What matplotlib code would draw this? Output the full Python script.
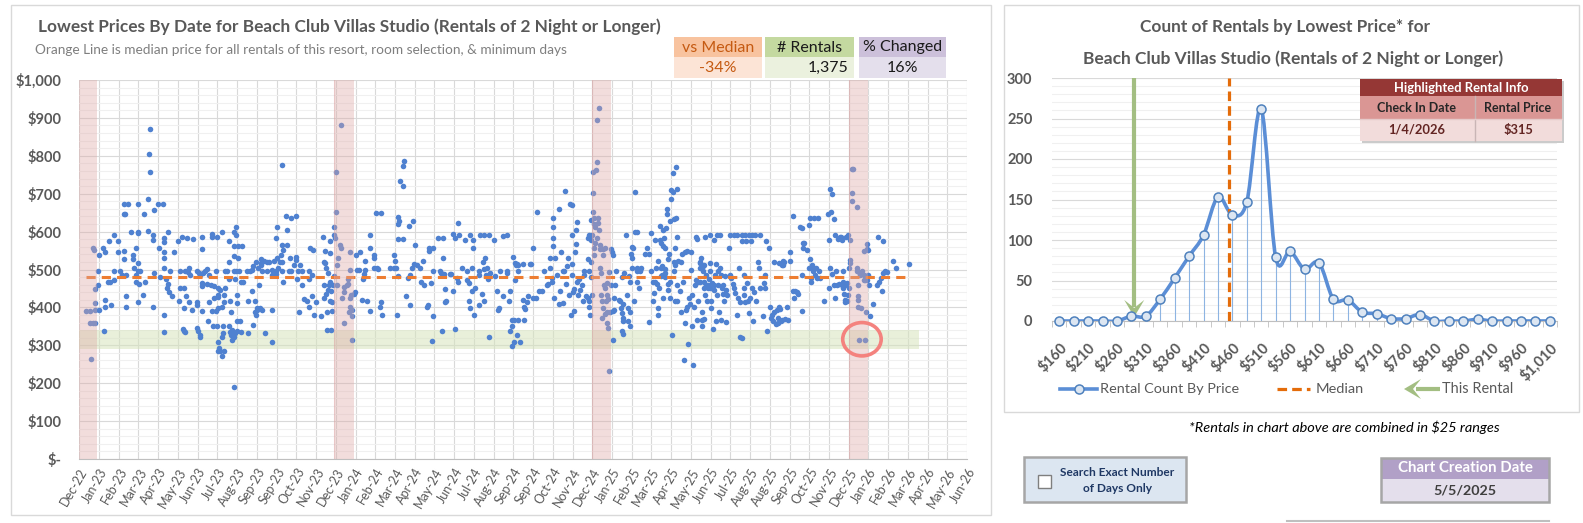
import matplotlib
matplotlib.use("Agg")
import matplotlib.pyplot as plt
from matplotlib.patches import Rectangle, Ellipse, Polygon, PathPatch
from matplotlib.path import Path
import numpy as np

plt.rcParams['font.family'] = ['Lato', 'DejaVu Sans']

# ---------------- DATA ----------------
# left chart: (period index of 28-day axis steps since Dec-22, lowest price $)
rentals_part1 = [(0.32,391),(0.56,391),(0.81,393),(0.56,360),(0.69,360),(0.81,360),(0.59,265),(0.69,558),(0.76,552),(0.81,449),(0.81,411),(0.93,496),(0.93,460),(1.0,394),(1.02,539),
(1.2,558),(1.32,546),(1.27,339),(1.32,420),(1.32,402),(1.44,466),(1.57,466),(1.49,576),(1.62,407),(1.77,590),(1.77,496),(1.77,473),(1.96,546),(1.96,574),(2.04,495),(2.18,486),(2.25,646),(2.28,673),(2.3,646),(2.28,528),(2.28,549),(2.38,486),(2.38,431),(2.38,400),(2.48,673),(2.64,600),(2.72,539),(2.72,528),(2.75,504),(2.89,556),(2.89,486),(2.89,468),(2.96,673),(2.96,600),(3.0,595),(3.0,517),(3.0,495),(3.02,461),(3.0,414),(3.1,496),(3.21,433),(3.3,647),(3.34,468),(3.48,686),(3.48,602),(3.53,805),(3.58,871),(3.6,756),(3.72,590),(3.73,578),(3.73,402),(3.8,657),(3.8,490),(4.0,673),(4.02,556),(4.07,479),(4.24,673),(4.27,584),(4.27,572),(4.27,547),(4.27,530),(4.27,504),(4.31,379),(4.27,334),(4.41,475),(4.44,451),(4.48,600),(4.51,461),(4.55,440),(4.61,495),(4.69,429),(4.78,547),(5.02,576),(5.05,416),(5.08,451),(5.1,495),(5.22,587),(5.29,398),(5.32,451),(5.34,495),(5.39,429),(5.46,584),(5.49,493),(5.54,414),(5.59,486),(5.57,504),(5.71,394),(5.74,581),(5.25,344),(5.32,338),(5.37,335),(5.96,496),(5.96,414),(5.98,407),(5.96,345),(6.0,338),(6.1,328),(6.13,321),(6.22,587),(6.22,555),(6.22,391),(6.22,464),(6.22,457),(6.08,490),(6.13,486),(6.27,490),(6.39,496),(6.47,502),(6.55,486),(6.47,461),(6.5,365),(6.55,414),(6.67,460),(6.72,593),(6.74,587),(6.81,456),(6.84,426),(6.72,391),(6.77,350),(6.94,496),(6.91,391),(6.98,350),(7.0,587),(7.03,451),(7.03,433),(7.05,427),(7.05,398),(7.15,446),(7.02,308),(7.1,293),(7.02,284),(7.15,284),(7.35,284),(7.23,272),(7.23,598),(7.23,400),(7.23,321),(7.28,352),(7.28,332),(7.32,414),(7.35,433),(7.4,451),(7.4,495),(7.48,495),(7.57,475),(7.57,521),(7.57,574),(7.62,416),(7.57,352),(7.62,334),(7.69,328),(7.76,341),(7.69,389),(7.76,315),(7.82,600),(7.82,563),(7.82,535),(7.82,496),(7.85,323),(7.9,475),(7.9,332),(7.96,612),(7.96,591),(7.96,496),(7.99,433),(7.99,411),(7.99,337),(8.02,563),(8.02,530),(8.07,496),(7.85,191),(8.16,363),(8.19,335),(8.24,563),(8.29,468),(7.99,363),(8.19,468),(8.5,495),(8.53,332),(8.55,416),(8.66,495),(8.75,442),(8.78,354),(8.75,499),(8.78,510),(8.92,416),(8.92,389),(8.95,380),(8.97,521),(9.0,398),(9.0,394),(9.05,504),(9.1,458),(9.14,398),(9.21,528),(9.21,517),(9.21,512),(9.24,496),(9.26,394),(9.34,523),(9.43,332),(9.51,496),(9.51,521),(9.59,521)]

rentals_part2 = [(9.76,499),(9.76,486),(9.76,392),(9.76,310),(9.88,523),(9.98,584),(9.98,495),(10.02,612),(9.98,488),(10.02,531),(10.05,504),(10.19,521),(10.22,537),(10.25,565),(10.25,521),(10.25,495),(10.32,552),(10.32,467),(10.25,776),(10.47,642),(10.52,603),(10.52,565),(10.61,496),(10.69,531),(10.73,637),(10.73,495),(10.9,511),(10.96,642),(11.0,534),(11.0,525),(11.03,475),(11.07,496),(11.12,389),(11.2,512),(11.29,460),(11.3,495),(11.4,423),(11.54,417),(11.62,400),(11.62,475),(11.62,495),(11.71,556),(11.79,486),(11.79,429),(11.84,552),(11.88,379),(11.98,414),(12.25,376),(12.35,587),(12.38,458),(12.38,424),(12.41,521),(12.47,549),(12.47,517),(12.52,504),(12.52,435),(12.55,341),(12.55,389),(12.59,446),(12.62,490),(12.64,460),(12.69,574),(12.69,468),(12.72,543),(12.72,416),(12.74,341),(12.76,442),(12.79,414),(12.81,391),(12.86,460),(12.89,611),(12.89,590),(12.92,482),(12.97,584),(12.99,653),(13.01,757),(13.06,512),(13.06,460),(13.11,531),(13.19,565),(13.26,881),(13.26,558),(13.31,426),(13.43,358),(13.43,440),(13.43,455),(13.56,460),(13.6,475),(13.62,461),(13.68,389),(13.7,546),(13.73,499),(13.73,424),(13.73,402),(13.77,433),(13.8,376),(13.8,315),(13.83,394),(13.9,435),(13.99,440),(14.04,539),(14.07,499),(14.19,499),(14.24,547),(14.34,420),(14.36,475),(14.41,489),(14.49,499),(14.49,523),(14.58,416),(14.71,590),(14.75,558),(14.75,391),(14.92,537),(14.95,531),(14.92,505),(15.05,648),(15.08,504),(15.13,502),(15.25,402),(15.29,414),(15.31,648),(15.34,379),(15.76,505),(15.93,504),(15.96,537),(16.01,523),(16.06,504),(16.1,379),(16.13,484),(16.15,580),(16.15,620),(16.15,638),(16.23,627),(16.25,734),(16.4,719),(16.4,772),(16.45,785),(16.4,580),(16.56,431),(16.64,477),(16.69,616),(16.74,486),(16.74,407),(16.86,505),(16.91,627),(16.98,514),(17.03,565),(17.14,511),(17.25,505),(17.32,467),(17.42,523),(17.49,460),(17.62,402),(17.65,407),(17.7,558),(17.74,549),(17.84,465),(17.87,312),(17.95,496),(17.95,558),(17.95,376),(18.2,583),(18.29,496),(18.32,490),(18.37,337),(18.42,530),(18.46,584),(18.49,488),(18.54,449),(18.54,414),(18.59,416),(18.8,489),(18.83,488),(18.94,442),(18.94,593),(19.02,583),(19.05,344),(19.14,477),(19.17,467),(19.19,622),(19.24,590),(19.39,504),(19.56,578),(19.64,496),(19.64,471),(19.73,464),(19.76,416),(19.81,590),(19.81,398),(19.9,442),(19.9,504),(19.95,556),(19.98,578),(20.02,380),(20.05,451),(20.24,486),(20.24,495),(20.24,407),(20.29,590),(20.41,435),(20.46,521),(20.49,502),(20.52,416),(20.52,590),(20.56,530),(20.63,486),(20.66,505),(20.74,475),(20.76,321),(20.78,590),(20.83,490),(21.0,578),(21.08,482),(21.17,444),(21.2,394),(21.25,398),(21.3,496)]

rentals_part3 = [(21.47,589),(21.5,431),(21.7,495),(21.7,490),(21.7,591),(21.77,416),(21.84,337),(21.84,442),(21.91,350),(21.91,367),(21.94,297),(21.97,534),(22.01,310),(22.01,367),(22.08,517),(22.08,473),(22.15,511),(22.18,328),(22.21,514),(22.26,495),(22.26,512),(22.26,367),(22.35,308),(22.48,514),(22.48,420),(22.52,402),(22.55,367),(22.58,396),(22.69,414),(22.75,429),(22.82,514),(22.92,514),(22.99,424),(23.02,558),(23.16,424),(23.22,653),(23.29,442),(23.46,442),(23.53,495),(23.7,460),(23.78,461),(23.87,531),(23.87,504),(23.94,468),(23.95,477),(24.0,637),(24.0,613),(24.0,583),(24.0,563),(24.04,424),(24.12,531),(24.21,486),(24.29,409),(24.3,660),(24.37,442),(24.41,546),(24.51,495),(24.54,411),(24.58,496),(24.64,707),(24.68,461),(24.71,508),(24.75,531),(24.8,433),(24.85,672),(24.92,380),(24.95,670),(24.95,590),(24.97,514),(24.97,486),(25.02,440),(25.08,449),(25.08,391),(25.13,547),(25.19,567),(25.19,605),(25.22,625),(25.25,468),(25.27,433),(25.34,475),(25.36,446),(25.47,460),(25.52,416),(25.56,486),(25.59,496),(25.66,431),(25.76,584),(25.76,528),(25.79,426),(25.81,417),(25.81,495),(25.81,400),(25.86,591),(25.9,380),(25.93,578),(25.93,479),(25.96,519),(25.96,631),(25.98,433),(26.0,591),(26.03,653),(26.03,701),(26.06,757),(26.1,637),(26.1,558),(26.1,620),(26.1,537),(26.13,611),(26.15,570),(26.2,763),(26.22,895),(26.23,783),(26.25,583),(26.27,635),(26.28,622),(26.32,605),(26.35,925),(26.37,554),(26.4,565),(26.4,504),(26.44,490),(26.44,433),(26.49,417),(26.5,372),(26.54,398),(26.57,539),(26.57,554),(26.6,460),(26.64,556),(26.66,382),(26.67,451),(26.71,416),(26.74,433),(26.74,389),(26.77,464),(26.77,359),(26.79,345),(26.81,423),(26.84,233),(26.84,493),(26.91,389),(26.94,554),(26.96,460),(26.99,547),(27.04,539),(27.04,391),(27.06,315),(27.08,424),(27.11,394),(27.16,460),(27.21,496),(27.35,420),(27.41,416),(27.45,398),(27.5,479),(27.52,385),(27.55,372),(27.55,363),(27.52,338),(27.55,330),(27.58,409),(27.62,490),(27.72,591),(27.75,433),(27.79,398),(27.82,365),(27.85,482),(27.89,350),(27.92,387),(27.92,468),(27.96,540),(28.01,559),(28.01,505),(28.04,531),(28.09,558),(28.12,416),(28.16,705),(28.19,600),(28.26,468),(28.26,505),(28.26,600),(28.29,496),(28.35,451),(28.4,499),(28.43,495),(28.46,505),(28.68,540),(28.77,558),(28.87,361),(28.9,540),(28.97,596),(28.97,495),(29.1,416),(29.1,468),(29.14,438),(29.19,578),(29.19,468),(29.24,505),(29.27,461),(29.31,398),(29.31,523),(29.34,379),(29.36,451),(29.41,578),(29.44,616),(29.48,504),(29.48,484),(29.51,570),(29.53,508),(29.54,486),(29.58,561),(29.61,424),(29.61,605),(29.64,583),(29.68,558),(29.68,490),(29.7,502),(29.71,479),(29.75,609),(29.78,646),(29.81,660),(29.83,528),(29.86,461),(29.86,446),(29.9,540),(29.92,468),(29.92,426),(29.95,627),(29.98,686),(29.98,710),(30.02,326),(30.07,705),(30.08,754),(30.12,521),(30.12,496),(30.15,634),(30.19,558),(30.2,417),(30.2,512),(30.22,637),(30.22,771),(30.29,712),(30.29,587),(30.29,460),(30.32,416),(30.37,523),(30.46,442),(30.49,521),(30.52,389),(30.56,540),(30.59,468),(30.63,262),(30.71,547),(30.71,359),(30.73,394),(30.8,549),(30.8,402),(30.83,303),(30.88,424),(30.96,409),(31.0,547),(31.03,499),(31.05,352),(31.07,433),(31.13,249),(31.17,402),(31.22,460),(31.27,587),(31.27,473),(31.3,367),(31.3,581),(31.34,468),(31.37,416),(31.44,505),(31.44,519),(31.47,517),(31.47,468),(31.51,530),(31.56,387),(31.56,350),(31.56,367),(31.59,508),(31.61,495),(31.64,451),(31.64,370),(31.68,512),(31.68,468),(31.71,587),(31.73,433),(31.78,460),(31.78,486),(31.81,416),(31.85,451),(31.88,460),(31.9,475),(31.95,590),(31.95,517),(31.98,495),(31.98,451),(32.01,416),(32.03,398),(32.06,464),(32.11,344),(32.15,578),(32.15,446),(32.18,460),(32.23,486),(32.25,365),(32.28,514),(32.31,433),(32.31,590),(32.35,460),(32.38,495),(32.4,389),(32.45,505),(32.48,590),(32.52,367),(32.52,486),(32.57,451),(32.62,435),(32.65,460),(32.69,416),(32.74,482),(32.79,361),(32.79,446),(32.82,433),(32.91,556),(32.96,486),(32.99,590),(32.99,482),(33.02,477),(33.12,461),(33.16,590),(33.19,451),(33.24,438),(33.33,590),(33.36,380),(33.4,424),(33.46,504),(33.47,321)]

rentals_part4 = [(33.58,590),(33.75,590),(33.92,590),(34.08,590),(34.25,590),(34.51,590),(33.58,576),(33.8,576),(34.03,576),
(33.5,414),(33.58,319),(33.67,433),(33.7,486),(33.7,451),(33.75,414),(33.83,464),(33.87,416),(33.97,384),(34.0,426),(34.08,451),(34.17,363),(34.2,440),(34.31,416),(34.42,519),(34.44,505),(34.51,451),(34.68,376),(34.71,464),(34.76,451),(34.76,486),(34.81,576),(34.88,337),(34.98,558),(35.02,402),(35.05,372),(35.1,380),(35.15,363),(35.19,389),(35.22,521),(35.32,356),(35.35,394),(35.39,372),(35.44,359),(35.49,517),(35.49,400),(35.52,396),(35.56,363),(35.61,512),(35.61,367),(35.69,523),(35.69,512),(35.72,521),(35.77,369),(35.86,402),(35.94,367),(36.0,547),(36.03,523),(36.17,442),(36.2,642),(36.23,426),(36.29,442),(36.37,440),(36.45,435),(36.54,613),(36.62,609),(36.62,486),(36.62,391),(36.67,569),(36.67,556),(36.74,569),(36.91,552),(36.98,505),(37.01,617),(37.04,637),(37.04,528),(37.08,477),(37.08,467),(37.13,511),(37.18,495),(37.21,505),(37.24,637),(37.29,486),(37.34,504),(37.38,477),(37.46,637),(37.51,495),(37.55,477),(37.75,417),(37.96,646),(37.99,451),(38.02,578),(38.06,504),(38.06,713),(38.09,653),(38.14,699),(38.14,488),(38.23,634),(38.26,460),(38.31,590),(38.31,426),(38.36,495),(38.39,459),(38.48,581),(38.53,461),(38.56,587),(38.6,587),(38.65,460),(38.65,578),(38.7,496),(38.73,468),(38.73,451),(38.77,435),(38.82,414),(38.82,460),(38.82,420),(38.87,587),(38.9,464),(38.9,417),(38.94,590),(38.97,433),(38.99,451),(38.99,504),(39.04,525),(39.04,578),(39.04,517),
(39.15,764),(39.2,766),(39.15,703),(39.15,682),(39.41,665),(39.41,505),(39.44,495),(39.49,460),(39.49,429),(39.49,420),(39.49,402),(39.54,493),(39.58,486),(39.61,398),(39.66,496),(39.75,549),(39.75,473),(39.78,486),(39.81,471),(39.83,482),(39.88,389),(39.92,566),(39.92,471),(39.95,554),(39.98,552),(40.0,486),(40.05,460),(40.08,376),(40.22,409),
(39.51,315),(39.82,315),
(40.42,460),(40.47,587),(40.52,468),(40.64,477),(40.69,442),(40.76,576),(40.76,490),(40.84,495),(40.96,493),(41.23,523),(41.4,505),(42.08,514)]

date_tick_labels = ["Dec-22","Jan-23","Feb-23","Mar-23","Apr-23","May-23","Jun-23","Jul-23","Aug-23","Sep-23","Sep-23",
                    "Oct-23","Nov-23","Dec-23","Jan-24","Feb-24","Mar-24","Apr-24","May-24","Jun-24","Jul-24","Aug-24",
                    "Sep-24","Sep-24","Oct-24","Nov-24","Dec-24","Jan-25","Feb-25","Mar-25","Apr-25","May-25","Jun-25",
                    "Jul-25","Aug-25","Aug-25","Sep-25","Oct-25","Nov-25","Dec-25","Jan-26","Feb-26","Mar-26","Apr-26",
                    "May-26","Jun-26"]
price_ticks = [0, 100, 200, 300, 400, 500, 600, 700, 800, 900, 1000]
price_tick_labels = ["$-", "$100", "$200", "$300", "$400", "$500", "$600", "$700", "$800", "$900", "$1,000"]
holiday_band_start = [-0.05, 12.93, 25.97, 39.0]
holiday_band_width = 0.97

median_price = 480
highlight_price = 315
highlight_period = 39.67
highlight_date = "1/4/2026"
bin_width = 25

stat_vs_median = "-34%"
stat_rentals = "1,375"
stat_changed = "16%"
creation_date = "5/5/2025"

# right chart: rental counts per $25 price bin
bin_prices = [160, 185, 210, 235, 260, 285, 310, 335, 360, 385, 410, 435, 460, 485, 510, 535, 560, 585,
              610, 635, 660, 685, 710, 735, 760, 785, 810, 835, 860, 885, 910, 935, 960, 985, 1010]
bin_counts = [0, 0, 0, 0, 0, 6, 6, 27, 53, 80, 106, 153, 131, 147, 262, 79, 86, 64,
              72, 27, 26, 11, 9, 3, 3, 8, 0, 0, 0, 2, 0, 0, 0, 0, 0]
count_ticks = [0, 50, 100, 150, 200, 250, 300]

# ---------------- FIGURE ----------------
W, H = 1583, 523
fig = plt.figure(figsize=(W / 100, H / 100), dpi=100)
renderer = fig.canvas.get_renderer()

GREY = '#595959'


def rect(x0, y0, x1, y1):
    return [x0 / W, 1 - y1 / H, (x1 - x0) / W, (y1 - y0) / H]


def fit_text(ax, x, y, s, width, **kw):
    t = ax.text(x, y, s, **kw)
    bb = t.get_window_extent(renderer=renderer)
    t.set_fontsize(t.get_fontsize() * width / bb.width)
    return t


# background axes in pixel coordinates
bg = fig.add_axes([0, 0, 1, 1], zorder=0)
bg.set_xlim(0, W); bg.set_ylim(H, 0); bg.axis('off')
bg.add_patch(Rectangle((11, 5), 980, 510, fill=False, ec='#D9D9D9', lw=1))
bg.add_patch(Rectangle((1004, 5), 575, 407, fill=False, ec='#D9D9D9', lw=1))
bg.plot([1287, 1549], [521, 521], color='#BFBFBF', lw=1.5)

# overlay axes in pixel coordinates
ov = fig.add_axes([0, 0, 1, 1], zorder=10)
ov.set_xlim(0, W); ov.set_ylim(H, 0); ov.axis('off')
ov.patch.set_alpha(0)

# ---------------- LEFT CHART ----------------
pts = np.array(rentals_part1 + rentals_part2 + rentals_part3 + rentals_part4)
period, price = pts[:, 0], pts[:, 1]

axL = fig.add_axes(rect(79.3, 80, 967.1, 459), zorder=2)
axL.set_xlim(0, len(date_tick_labels) - 1)
axL.set_ylim(0, 1000)
axL.set_yticks(price_ticks)
axL.set_yticks(np.arange(0, 1001, 20), minor=True)
axL.set_yticklabels(price_tick_labels, fontsize=10.5, fontweight='bold', color=GREY)
axL.set_xticks(np.arange(len(date_tick_labels)))
axL.set_xticklabels(date_tick_labels, rotation=60, ha='right', rotation_mode='anchor',
                    fontsize=9, color=GREY)
axL.tick_params(axis='both', which='both', length=0)
axL.tick_params(axis='y', pad=13)
axL.tick_params(axis='x', pad=5)
axL.grid(True, which='major', color='#D9D9D9', lw=0.8, zorder=0)
axL.grid(True, which='minor', axis='y', color='#F0F0F0', lw=0.8, zorder=0)
axL.set_axisbelow(True)
for s in ['top', 'right', 'left']:
    axL.spines[s].set_visible(False)
axL.spines['bottom'].set_color('#BFBFBF')

# target price band
axL.fill_between([0, period.max() + 0.5], highlight_price - bin_width, highlight_price + bin_width,
                 color='#D7E4BD', alpha=0.55, lw=0, zorder=1)
axL.scatter(period, price, s=16, color='#4F81D0', lw=0, zorder=3)
axL.plot([period.min(), period.max()], [median_price, median_price], color='#ED7D31',
         lw=2.2, ls=(0, (3, 2)), zorder=3.5)
for b in holiday_band_start:
    axL.axvspan(b, b + holiday_band_width, color='#DEA7A5', alpha=0.38, lw=0, zorder=4)
    axL.axvline(b, color='#D9A0A0', lw=0.8, alpha=0.35, zorder=4)
axL.add_patch(Ellipse((highlight_period, highlight_price + 1), 1.95, 88, fill=False,
                      ec='#F4827E', lw=2.6, zorder=5))

# titles
fit_text(bg, 38, 27, "Lowest Prices By Date for Beach Club Villas Studio (Rentals of 2 Night or Longer)",
         617, fontsize=12, fontweight='bold', color=GREY, va='center', ha='left')
fit_text(bg, 35, 50, "Orange Line is median price for all rentals of this resort, room selection, & minimum days",
         530, fontsize=10, color='#7F7F7F', va='center', ha='left')

# stats boxes
boxes = [
    (674, 762, "vs Median", stat_vs_median, '#F8C39F', '#FCE4D6', '#C55A11', 'center'),
    (765, 854, "# Rentals", stat_rentals, '#C4D9A0', '#EBF1DE', '#1A1A1A', 'right'),
    (859, 946, "% Changed", stat_changed, '#CCC0DA', '#E4DFEC', '#1A1A1A', 'center'),
]
for x0, x1, head, val, c_head, c_val, tcol, align in boxes:
    bg.add_patch(Rectangle((x0, 37), x1 - x0, 20, fc=c_head, ec='none'))
    bg.add_patch(Rectangle((x0, 57), x1 - x0, 21, fc=c_val, ec='none'))
    bg.text((x0 + x1) / 2, 47.5, head, fontsize=11.5, color=tcol, ha='center', va='center')
    if align == 'right':
        bg.text(x1 - 6, 68, val, fontsize=11.5, color=tcol, ha='right', va='center')
    else:
        bg.text((x0 + x1) / 2, 68, val, fontsize=11.5, color=tcol, ha='center', va='center')

# ---------------- RIGHT CHART ----------------
xpos = np.arange(len(bin_prices))
counts = np.array(bin_counts, dtype=float)

axR = fig.add_axes(rect(1052, 78, 1557, 321), zorder=2)
axR.set_xlim(-0.5, len(bin_prices) - 0.5)
axR.set_ylim(0, 300)
axR.set_yticks(count_ticks)
axR.set_yticks(np.arange(0, 301, 10), minor=True)
axR.set_yticklabels([str(c) for c in count_ticks], fontsize=10.5, fontweight='bold', color=GREY)
axR.tick_params(axis='y', which='both', length=0, pad=14)
axR.set_xticks(xpos[::2])
axR.set_xticklabels(["${:,}".format(p) for p in bin_prices[::2]], rotation=45, ha='right',
                    rotation_mode='anchor', fontsize=10.5, fontweight='bold', color=GREY)
axR.set_xticks(np.arange(len(bin_prices) + 1) - 0.5, minor=True)
axR.tick_params(axis='x', which='major', length=0, pad=14)
axR.tick_params(axis='x', which='minor', length=4, color='#BFBFBF', direction='out')
axR.grid(True, which='major', axis='y', color='#D9D9D9', lw=0.8)
axR.grid(True, which='minor', axis='y', color='#F0F0F0', lw=0.8)
axR.set_axisbelow(True)
for s in ['top', 'right', 'left']:
    axR.spines[s].set_visible(False)
axR.spines['bottom'].set_color('#BFBFBF')

# drop lines
axR.vlines(xpos, 0, counts, color='#8DB4E2', lw=0.8, zorder=2)

# smoothed line
P = np.column_stack([xpos, counts])
verts = [P[0]]
codes = [Path.MOVETO]
n = len(P)
for i in range(n - 1):
    p0 = P[i - 1] if i > 0 else P[i]
    p1, p2 = P[i], P[i + 1]
    p3 = P[i + 2] if i + 2 < n else P[i + 1]
    verts += [p1 + (p2 - p0) / 6, p2 - (p3 - p1) / 6, p2]
    codes += [Path.CURVE4] * 3
axR.add_patch(PathPatch(Path(verts, codes), fill=False, ec='#5B8ED6', lw=2.6, zorder=3))
axR.plot(xpos, counts, 'o', ms=6.5, mfc='#DCE6F2', mec='#4F81BD', mew=1.1, zorder=4, clip_on=False)

# median line & this-rental arrow (positions on the bin axis)
median_pos = (median_price - bin_prices[0]) / bin_width - 1
rental_pos = (highlight_price - bin_prices[0]) / bin_width - 1
axR.vlines(median_pos, 0, 300, color='#E46C0A', lw=2.3, ls=(0, (3, 1.6)), zorder=3.5)
ARROW = '#A3BE82'
ux = 1 / 14.43   # data units per pixel (x)
uy = 300 / 243   # data units per pixel (y)
tip_y = 5
axR.plot([rental_pos, rental_pos], [300, tip_y + 10 * uy], color=ARROW, lw=3, zorder=3.6,
         solid_capstyle='butt')
axR.add_patch(Polygon([(rental_pos, tip_y), (rental_pos - 10 * ux, tip_y + 17 * uy),
                       (rental_pos, tip_y + 9 * uy), (rental_pos + 10 * ux, tip_y + 17 * uy)],
                      closed=True, fc=ARROW, ec='none', zorder=3.6))

# right title
fit_text(bg, 1285, 27, "Count of Rentals by Lowest Price* for", 288, fontsize=12,
         fontweight='bold', color=GREY, ha='center', va='center')
fit_text(bg, 1293, 59, "Beach Club Villas Studio (Rentals of 2 Night or Longer)", 416, fontsize=12,
         fontweight='bold', color=GREY, ha='center', va='center')

# highlighted rental table
ov.add_patch(Rectangle((1362, 81), 202, 62, fc='#BFBFBF', ec='none', alpha=0.8))
ov.add_patch(Rectangle((1360, 79), 202, 17, fc='#953735', ec='none'))
ov.add_patch(Rectangle((1360, 96), 202, 23, fc='#DA9694', ec='none'))
ov.add_patch(Rectangle((1360, 119), 202, 22, fc='#F2DCDB', ec='none'))
ov.plot([1475, 1475], [96, 141], color='#C9B5B5', lw=1)
ov.plot([1360, 1562], [119, 119], color='#E6CACA', lw=1)
fit_text(ov, 1461, 87.5, "Highlighted Rental Info", 135, fontsize=10, fontweight='bold',
         color='white', ha='center', va='center')
t_cid = fit_text(ov, 1417, 108, "Check In Date", 79, fontsize=10, fontweight='bold', color='#262626',
                 ha='center', va='center')
ov.text(1518, 108, "Rental Price", fontsize=t_cid.get_fontsize(), fontweight='bold', color='#262626',
        ha='center', va='center')
t_date = fit_text(ov, 1417, 130, highlight_date, 57, fontsize=10, fontweight='bold', color='#632523',
                  ha='center', va='center')
ov.text(1518, 130, "${}".format(highlight_price), fontsize=t_date.get_fontsize(), fontweight='bold',
        color='#632523', ha='center', va='center')

# legend
LY = 389
ov.plot([1060, 1097], [LY, LY], color='#5B8ED6', lw=2.6)
ov.plot([1079], [LY], 'o', ms=6.5, mfc='#DCE6F2', mec='#4F81BD', mew=1.1)
fit_text(ov, 1100, LY, "Rental Count By Price", 139, fontsize=11, color=GREY, ha='left', va='center')
ov.plot([1277, 1310], [LY, LY], color='#E46C0A', lw=2.3, ls=(0, (3, 1.6)))
fit_text(ov, 1316, LY, "Median", 48, fontsize=11, color=GREY, ha='left', va='center')
ov.plot([1416, 1440], [LY, LY], color=ARROW, lw=3, solid_capstyle='butt')
ov.add_patch(Polygon([(1404, LY), (1421, LY - 10), (1413, LY), (1421, LY + 10)], closed=True,
                     fc=ARROW, ec='none'))
fit_text(ov, 1442, LY, "This Rental", 71, fontsize=11, color=GREY, ha='left', va='center')

# footnote
fit_text(ov, 1344, 427, "*Rentals in chart above are combined in $25 ranges", 310, fontsize=10,
         style='italic', color='black', ha='center', va='center')

# checkbox control
ov.add_patch(Rectangle((1024, 457), 162, 45, fc='#DCE6F1', ec='#A6A6A6', lw=1.8))
ov.add_patch(Rectangle((1038, 475), 13, 13, fc='white', ec='#7F7F7F', lw=1))
t_s = fit_text(ov, 1117, 472, "Search Exact Number", 115, fontsize=9, fontweight='bold', color='#1F3864',
               ha='center', va='center')
ov.text(1118, 489, "of Days Only", fontsize=t_s.get_fontsize(), fontweight='bold', color='#1F3864',
        ha='center', va='center')

# chart creation date box
ov.add_patch(Rectangle((1381, 458), 168, 21, fc='#B1A0C7', ec='none'))
ov.add_patch(Rectangle((1381, 479), 168, 23, fc='#E4DFEC', ec='none'))
ov.add_patch(Rectangle((1381, 458), 168, 44, fill=False, ec='#A6A6A6', lw=1.8))
fit_text(ov, 1465, 468.5, "Chart Creation Date", 134, fontsize=11, fontweight='bold', color='white',
         ha='center', va='center')
fit_text(ov, 1465, 490.5, creation_date, 63, fontsize=11, fontweight='bold', color='#3F3F3F',
         ha='center', va='center')

fig.savefig('out.png', dpi=100)
